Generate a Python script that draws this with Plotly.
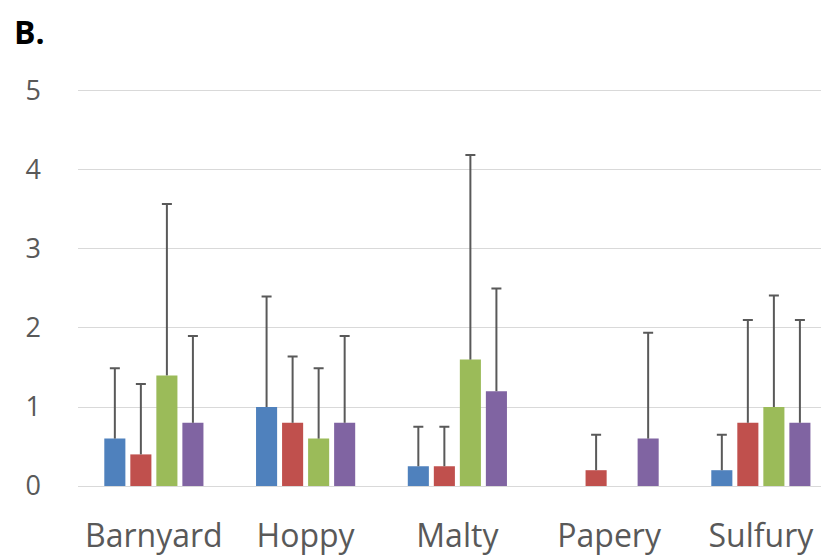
import plotly.graph_objects as go

categories = ["Barnyard", "Hoppy", "Malty", "Papery", "Sulfury"]

series_names = ["Series 1", "Series 2", "Series 3", "Series 4"]
series_colors = ["#4F81BD", "#C0504D", "#9BBB59", "#8064A2"]

s1_mean = [0.6, 1.0, 0.25, 0.0, 0.2]
s2_mean = [0.4, 0.8, 0.25, 0.2, 0.8]
s3_mean = [1.4, 0.6, 1.6, 0.0, 1.0]
s4_mean = [0.8, 0.8, 1.2, 0.6, 0.8]

s1_err = [0.89, 1.40, 0.50, None, 0.45]
s2_err = [0.89, 0.84, 0.50, 0.45, 1.30]
s3_err = [2.17, 0.89, 2.59, None, 1.41]
s4_err = [1.10, 1.10, 1.30, 1.34, 1.30]

y_ticks = [0, 1, 2, 3, 4, 5]

means = [s1_mean, s2_mean, s3_mean, s4_mean]
errs = [s1_err, s2_err, s3_err, s4_err]

fig = go.Figure()
for i, (name, color, m, e) in enumerate(zip(series_names, series_colors, means, errs)):
    grp = str(i)
    # bar with the whisker line (no caps)
    fig.add_trace(go.Bar(
        x=categories, y=m, name=name, offsetgroup=grp,
        marker=dict(color=color, line=dict(width=0)),
        error_y=dict(type="data", array=[v if v is not None else 0 for v in e],
                     symmetric=False, arrayminus=[0] * len(e),
                     color="#595959", thickness=2, width=0),
        hoverinfo="x+y",
    ))
    # invisible bar reaching the whisker top, carrying only the top cap
    tops = [mv + ev if ev is not None else None for mv, ev in zip(m, e)]
    fig.add_trace(go.Bar(
        x=categories, y=tops, name=name + " cap", offsetgroup=grp,
        marker=dict(color="rgba(0,0,0,0)", line=dict(width=0)),
        error_y=dict(type="data", array=[0 if t is not None else None for t in tops],
                     color="#595959", thickness=2, width=5),
        hoverinfo="skip", showlegend=False,
    ))

PLOT_TOP = 81
PLOT_H = 547 - 69 - PLOT_TOP

fig.update_layout(
    width=821, height=547,
    margin=dict(l=70, r=0, t=PLOT_TOP, b=69),
    paper_bgcolor="white", plot_bgcolor="white",
    barmode="group", bargap=0.314, bargroupgap=0.19,
    showlegend=False,
    font=dict(family="Open Sans", color="#595959"),
    annotations=[dict(text="<b>B.</b>", xref="paper", yref="paper",
                      x=(4 - 70) / 751, y=1 + PLOT_TOP / PLOT_H,
                      xanchor="left", yanchor="top", showarrow=False,
                      font=dict(family="Open Sans", size=32, color="black"))],
)
fig.update_xaxes(
    range=[-0.5, 4.449], showgrid=False, showline=False, zeroline=False,
    tickfont=dict(size=32, color="#595959"), ticks="", ticklabelstandoff=28,
)
fig.update_yaxes(
    range=[0, 5.025], tickvals=y_ticks, showgrid=True, gridcolor="#D9D9D9", gridwidth=1,
    zeroline=True, zerolinecolor="#D9D9D9", zerolinewidth=1, showline=False,
    tickfont=dict(size=27, color="#595959"), ticks="", ticklabelstandoff=36,
)

fig.write_html("out.html")
